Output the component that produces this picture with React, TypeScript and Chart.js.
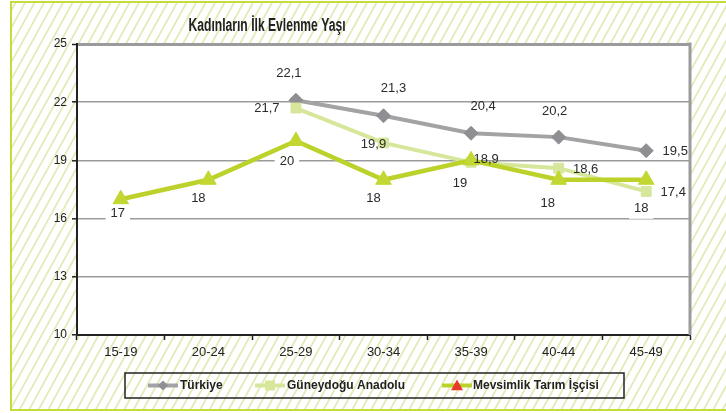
import React, { useEffect, useRef } from "react";
import { Chart, registerables } from "chart.js";
Chart.register(...registerables);

const title = "Kadınların İlk Evlenme Yaşı";
const categories = ["15-19", "20-24", "25-29", "30-34", "35-39", "40-44", "45-49"];
const seriesNames = ["Türkiye", "Güneydoğu Anadolu", "Mevsimlik Tarım İşçisi"];
const turkiye = [null, null, 22.1, 21.3, 20.4, 20.2, 19.5];
const guneydogu = [null, null, 21.7, 19.9, 18.9, 18.6, 17.4];
const mevsimlik = [17, 18, 20, 18, 19, 18, 18];
const yMin = 10;
const yMax = 25;
const yStep = 3;

// label offsets (styling, relative to each point)
const labelOffsets = [
  [null, null, [-7, -27], [10, -27], [12, -27], [-4, -26], [29, 1]],
  [null, null, [-29, 0], [-10, 1], [15, -3], [27, 1], [27, 1]],
  [[-3, 14], [-10, 19], [-9, 20], [-10, 19], [-11, 23], [-11, 24], [-5, 29]],
];

const COLORS = {
  frame: "#c6dc3a",
  hatch: "#e0ebb6",
  grid: "#9b9b9e",
  axis: "#222222",
  text: "#222222",
  tk: "#a3a3a6",
  tkPt: "#8f8f93",
  gd: "#d6e79c",
  mv: "#bcd22a",
  mvPt: "#c3d733",
  red: "#e63a2a",
};

const FONT = '"Liberation Sans", Arial, sans-serif';

const fmt = (v: number) => String(v).replace(".", ",");

const bgPlugin = {
  id: "bgPlugin",
  beforeDraw(chart: any) {
    const { ctx, width, height, chartArea } = chart;
    ctx.save();
    ctx.fillStyle = "#ffffff";
    ctx.fillRect(0, 0, width, height);
    const fx = 11, fy = 2, fb = 410;
    ctx.beginPath();
    ctx.rect(fx, fy, width - fx, fb - fy);
    ctx.clip();
    ctx.strokeStyle = COLORS.hatch;
    ctx.lineWidth = 1.7;
    const h = fb - fy;
    for (let x0 = -h; x0 < width + 20; x0 += 9.5) {
      ctx.beginPath();
      ctx.moveTo(x0, fb);
      ctx.lineTo(x0 + h * 0.55, fy);
      ctx.stroke();
    }
    ctx.restore();
    ctx.save();
    ctx.strokeStyle = COLORS.frame;
    ctx.lineWidth = 2;
    ctx.beginPath();
    ctx.moveTo(width + 2, fy);
    ctx.lineTo(fx, fy);
    ctx.lineTo(fx, fb);
    ctx.lineTo(width + 2, fb);
    ctx.stroke();
    ctx.fillStyle = "#ffffff";
    ctx.fillRect(chartArea.left, chartArea.top, chartArea.right - chartArea.left, chartArea.bottom - chartArea.top);
    ctx.restore();
  },
  afterDraw(chart: any) {
    const { ctx, chartArea } = chart;
    ctx.save();
    ctx.strokeStyle = COLORS.grid;
    ctx.lineWidth = 3;
    ctx.beginPath();
    ctx.moveTo(chartArea.right, chartArea.top - 1.5);
    ctx.lineTo(chartArea.right, chartArea.bottom);
    ctx.stroke();

    // title
    ctx.fillStyle = COLORS.text;
    ctx.font = 'bold 18px "Liberation Sans Narrow", "Liberation Sans", Arial, sans-serif';
    ctx.textAlign = "center";
    ctx.textBaseline = "middle";
    const tw = ctx.measureText(title).width;
    const sx = 157 / tw;
    ctx.save();
    ctx.translate(267, 26);
    ctx.scale(sx, 1);
    ctx.fillText(title, 0, 0);
    ctx.restore();

    // data labels
    ctx.font = "13px " + FONT;
    chart.data.datasets.forEach((ds: any, di: number) => {
      const meta = chart.getDatasetMeta(di);
      meta.data.forEach((pt: any, i: number) => {
        const v = ds.data[i];
        const off = labelOffsets[di][i];
        if (v == null || !off) return;
        const txt = fmt(v);
        const x = pt.x + off[0];
        const y = pt.y + off[1];
        if (di === 2) {
          const w = ctx.measureText(txt).width + 10;
          ctx.fillStyle = "#ffffff";
          ctx.fillRect(x - w / 2, y - 8, w, 18);
        }
        ctx.fillStyle = "#2a2a2a";
        ctx.textAlign = "center";
        ctx.textBaseline = "middle";
        ctx.fillText(txt, x, y);
      });
    });

    // legend
    const lx = 125, ly = 373, lw = 499, lh = 25;
    ctx.strokeStyle = COLORS.axis;
    ctx.lineWidth = 1.5;
    ctx.strokeRect(lx, ly, lw, lh);
    const cy = ly + lh / 2;
    const items = [
      { x: 148, color: COLORS.tk, style: "rectRot", pt: COLORS.tkPt, r: 5, text: 180 },
      { x: 255, color: COLORS.gd, style: "rect", pt: COLORS.gd, r: 5, text: 287 },
      { x: 442, color: COLORS.mv, style: "triangle", pt: COLORS.red, r: 6, text: 473 },
    ];
    items.forEach((it, k) => {
      ctx.strokeStyle = it.color;
      ctx.lineWidth = 4;
      ctx.beginPath();
      ctx.moveTo(it.x, cy);
      ctx.lineTo(it.x + 30, cy);
      ctx.stroke();
      ctx.fillStyle = it.pt;
      const mx = it.x + 15;
      ctx.beginPath();
      if (it.style === "rectRot") {
        ctx.moveTo(mx, cy - it.r);
        ctx.lineTo(mx + it.r, cy);
        ctx.lineTo(mx, cy + it.r);
        ctx.lineTo(mx - it.r, cy);
      } else if (it.style === "rect") {
        ctx.rect(mx - it.r, cy - it.r, it.r * 2, it.r * 2);
      } else {
        ctx.moveTo(mx, cy - it.r);
        ctx.lineTo(mx + it.r, cy + it.r * 0.8);
        ctx.lineTo(mx - it.r, cy + it.r * 0.8);
      }
      ctx.closePath();
      ctx.fill();
      ctx.fillStyle = COLORS.text;
      ctx.font = "bold 12px " + FONT;
      ctx.textAlign = "left";
      ctx.textBaseline = "middle";
      ctx.fillText(seriesNames[k], it.text, cy + 0.5);
    });
    ctx.restore();
  },
};

export default function App() {
  const ref = useRef<HTMLCanvasElement | null>(null);
  useEffect(() => {
    document.body.style.margin = "0";
    const canvas = ref.current;
    if (!canvas) return;
    const chart = new Chart(canvas, {
      type: "line",
      data: {
        labels: categories,
        datasets: [
          {
            label: seriesNames[0],
            data: turkiye,
            borderColor: COLORS.tk,
            borderWidth: 4,
            pointStyle: "rectRot",
            pointRadius: 7,
            pointBackgroundColor: COLORS.tkPt,
            pointBorderColor: COLORS.tkPt,
            pointBorderWidth: 1,
            tension: 0,
            order: 2,
          },
          {
            label: seriesNames[1],
            data: guneydogu,
            borderColor: COLORS.gd,
            borderWidth: 4,
            pointStyle: "rect",
            pointRadius: 7,
            pointBackgroundColor: COLORS.gd,
            pointBorderColor: COLORS.gd,
            pointBorderWidth: 1,
            tension: 0,
            order: 1,
          },
          {
            label: seriesNames[2],
            data: mevsimlik,
            borderColor: COLORS.mv,
            borderWidth: 4.5,
            pointStyle: "triangle",
            pointRadius: 9,
            pointBackgroundColor: COLORS.mvPt,
            pointBorderColor: COLORS.mvPt,
            pointBorderWidth: 1,
            tension: 0,
            order: 0,
          },
        ],
      } as any,
      options: {
        responsive: false,
        animation: false,
        events: [],
        layout: { padding: { left: 0, top: 44, right: 36, bottom: 53 } },
        plugins: {
          legend: { display: false },
          title: { display: false },
          tooltip: { enabled: false },
        },
        scales: {
          x: {
            type: "category",
            offset: true,
            afterFit: (s: any) => { s.height = 25; },
            grid: {
              offset: true,
              drawOnChartArea: false,
              drawTicks: true,
              tickLength: 5,
              tickColor: COLORS.axis,
              tickWidth: 1.5,
            },
            border: { color: COLORS.axis, width: 2 },
            ticks: {
              color: COLORS.text,
              font: { family: FONT, size: 13 },
              padding: 5,
              maxRotation: 0,
            },
          },
          y: {
            min: yMin,
            max: yMax,
            afterFit: (s: any) => { s.width = 77; },
            ticks: {
              stepSize: yStep,
              color: COLORS.text,
              font: { family: FONT, size: 12 },
              padding: 5,
            },
            grid: {
              color: (c: any) => (c.tick && c.tick.value === yMin ? "rgba(0,0,0,0)" : COLORS.grid),
              lineWidth: (c: any) => (c.tick && c.tick.value === yMax ? 3 : 1.6),
              tickColor: COLORS.axis,
              tickLength: 5,
              tickWidth: 1.5,
            },
            border: { color: COLORS.axis, width: 2 },
          },
        },
      } as any,
      plugins: [bgPlugin],
    });
    return () => chart.destroy();
  }, []);
  return <canvas ref={ref} width={726} height={413} style={{ display: "block", width: 726, height: 413 }} />;
}
